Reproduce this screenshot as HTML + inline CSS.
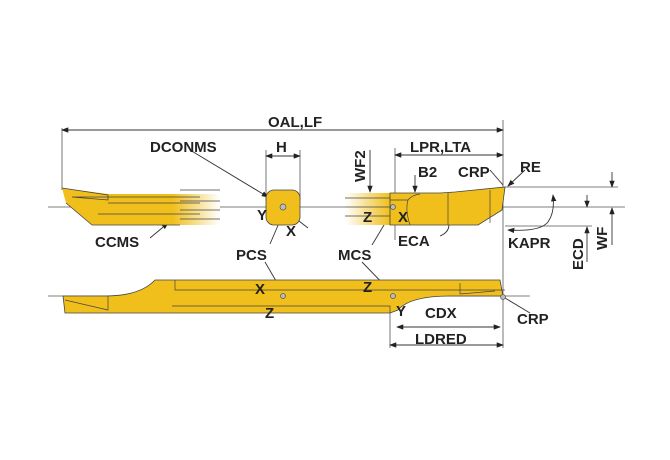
<!DOCTYPE html>
<html><head><style>body{margin:0;background:#fff}svg{display:block}text{font-family:"Liberation Sans",Arial,sans-serif;font-weight:bold;font-size:15px;fill:#222}</style></head>
<body>
<svg width="670" height="460" viewBox="0 0 670 460" xmlns="http://www.w3.org/2000/svg">
<defs>
<linearGradient id="fl" x1="0" x2="1"><stop offset="0" stop-color="#f0bf1c"/><stop offset="0.7" stop-color="#f0bf1c"/><stop offset="1" stop-color="#fff"/></linearGradient>
<linearGradient id="fr" x1="0" x2="1"><stop offset="0" stop-color="#fff"/><stop offset="1" stop-color="#f0bf1c"/></linearGradient>
<marker id="a" markerWidth="8" markerHeight="6" refX="7" refY="3" orient="auto-start-reverse"><path d="M0,0 L8,3 L0,6z" fill="#222"/></marker>
</defs>
<g stroke="#555" stroke-width="0.8" fill="none">
<line x1="48" y1="207" x2="625" y2="207"/>
<line x1="48" y1="296" x2="530" y2="296"/>
<line x1="62" y1="128" x2="62" y2="190"/>
<line x1="503" y1="120" x2="503" y2="348"/>
<line x1="505" y1="187" x2="618" y2="187"/>
<line x1="505" y1="226" x2="592" y2="226"/>
<line x1="266" y1="150" x2="266" y2="200"/>
<line x1="300" y1="150" x2="300" y2="200"/>
<line x1="395" y1="148" x2="395" y2="240"/>
<line x1="390" y1="300" x2="390" y2="348"/>
</g>
<g stroke="#333" stroke-width="0.9" fill="none">
<line x1="62" y1="130" x2="503" y2="130" marker-start="url(#a)" marker-end="url(#a)"/>
<line x1="266" y1="156" x2="300" y2="156" marker-start="url(#a)" marker-end="url(#a)"/>
<line x1="395" y1="155" x2="503" y2="155" marker-start="url(#a)" marker-end="url(#a)"/>
<line x1="612" y1="172" x2="612" y2="187" marker-end="url(#a)"/>
<line x1="612" y1="245" x2="612" y2="208" marker-end="url(#a)"/>
<line x1="587" y1="195" x2="587" y2="207" marker-end="url(#a)"/>
<line x1="587" y1="262" x2="587" y2="227" marker-end="url(#a)"/>
<line x1="370" y1="150" x2="370" y2="192" marker-end="url(#a)"/>
<line x1="415" y1="175" x2="415" y2="192" marker-end="url(#a)"/>
<line x1="397" y1="327" x2="500" y2="327" marker-start="url(#a)" marker-end="url(#a)"/>
<line x1="390" y1="345" x2="503" y2="345" marker-start="url(#a)" marker-end="url(#a)"/>
<line x1="190" y1="150" x2="268" y2="197" marker-end="url(#a)"/>
<line x1="268" y1="197" x2="308" y2="228"/>
<line x1="150" y1="238" x2="168" y2="223" marker-end="url(#a)"/>
<line x1="285" y1="209" x2="270" y2="244"/>
<line x1="372" y1="245" x2="393" y2="210"/>
<line x1="265" y1="262" x2="283" y2="293"/>
<line x1="362" y1="262" x2="392" y2="293"/>
<line x1="530" y1="313" x2="505" y2="298"/>
<line x1="490" y1="170" x2="503" y2="185"/>
<line x1="525" y1="170" x2="508" y2="186" marker-end="url(#a)"/>
<path d="M508,230 Q540,232 548,222 Q555,212 553,195" marker-start="url(#a)" marker-end="url(#a)"/>
<path d="M440,236 Q455,230 445,212" marker-end="url(#a)"/>
<line x1="420" y1="212" x2="420" y2="198"/>
</g>
<path d="M62,188 L108,194 L220,194 L220,225 L92,225 L66,203 Z" fill="url(#fl)" stroke="none"/>
<g stroke="#444" stroke-width="0.8" fill="none"><path d="M62,188 L108,195 L108,200 L72,197 M72,197 L200,197 M108,203 L200,203 M66,203 L92,225 M92,225 L180,225 M98,214 L200,214 M180,190 L220,190 M180,201 L220,201 M180,210 L220,210 M180,219 L220,219"/></g>
<rect x="266" y="190" width="34" height="35" rx="8" fill="#f0bf1c" stroke="#444" stroke-width="0.8"/>
<circle cx="283" cy="207" r="3" fill="#bbb" stroke="#555" stroke-width="0.7"/>
<path d="M345,193 L390,193 L390,225 L345,225 Z" fill="url(#fr)"/>
<path d="M390,193 L440,193 L455,192 L505,187 L502,210 L478,225 L390,225 Z" fill="#f0bf1c" stroke="#444" stroke-width="0.8"/>
<g stroke="#444" stroke-width="0.7" fill="none"><path d="M345,198 L390,198 M345,207 L390,207 M345,216 L390,216 M390,200 L408,200 Q412,195 420,194 M408,200 Q405,210 410,225 M448,193 L448,225 M490,190 L490,223"/></g>
<circle cx="393" cy="207" r="2.5" fill="#bbb" stroke="#555" stroke-width="0.7"/>
<path d="M63,296 L105,296 Q140,296 155,280 L500,280 L503,296 L450,296 Q410,296 398,310 L390,313 L65,313 Z" fill="#f0bf1c" stroke="#444" stroke-width="0.8"/>
<g stroke="#444" stroke-width="0.7" fill="none"><path d="M175,280 L175,290 L505,290 M108,296 L108,310 L65,300 M172,306 L390,306 L390,313 M460,283 L460,294 L495,291"/></g>
<circle cx="283" cy="296" r="2.5" fill="#bbb" stroke="#555" stroke-width="0.7"/>
<circle cx="393" cy="296" r="2.5" fill="#bbb" stroke="#555" stroke-width="0.7"/>
<circle cx="503" cy="297" r="2.5" fill="#bbb" stroke="#555" stroke-width="0.7"/>
<text x="268" y="127">OAL,LF</text>
<text x="150" y="152">DCONMS</text>
<text x="276" y="152">H</text>
<text x="410" y="152">LPR,LTA</text>
<text x="418" y="177">B2</text>
<text x="458" y="177">CRP</text>
<text x="520" y="172">RE</text>
<text x="95" y="247">CCMS</text>
<text x="236" y="260">PCS</text>
<text x="338" y="260">MCS</text>
<text x="398" y="246">ECA</text>
<text x="508" y="248">KAPR</text>
<text x="257" y="220">Y</text>
<text x="286" y="236">X</text>
<text x="363" y="222">Z</text>
<text x="398" y="222">X</text>
<text x="255" y="294">X</text>
<text x="265" y="318">Z</text>
<text x="363" y="292">Z</text>
<text x="396" y="316">Y</text>
<text x="425" y="318">CDX</text>
<text x="517" y="324">CRP</text>
<text x="415" y="344">LDRED</text>
<text transform="translate(365,182) rotate(-90)">WF2</text>
<text transform="translate(583,270) rotate(-90)">ECD</text>
<text transform="translate(607,250) rotate(-90)">WF</text>
</svg>
</body></html>
